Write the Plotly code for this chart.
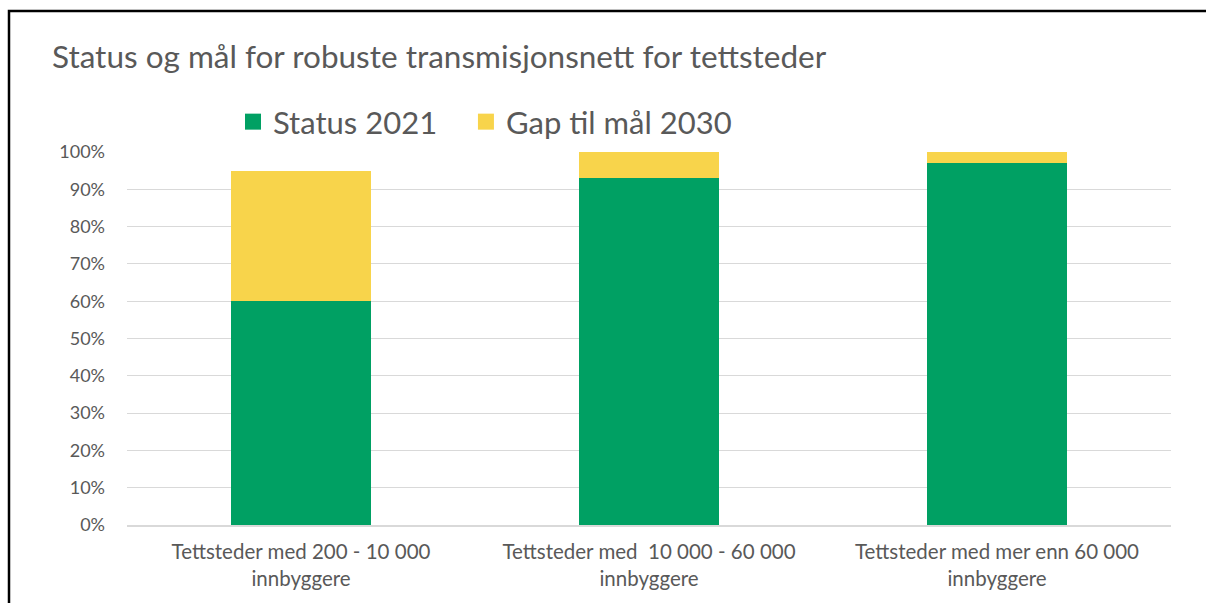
import plotly.graph_objects as go

categories = [
    "Tettsteder med 200 - 10 000<br>innbyggere",
    "Tettsteder med  10 000 - 60 000<br>innbyggere",
    "Tettsteder med mer enn 60 000<br>innbyggere",
]
series_names = ["Status 2021", "Gap til mål 2030"]
status_2021 = [0.60, 0.93, 0.97]
gap_2030 = [0.35, 0.07, 0.03]
y_ticks = [0, 0.1, 0.2, 0.3, 0.4, 0.5, 0.6, 0.7, 0.8, 0.9, 1.0]

W, H = 1206, 603
L, R, T, B = 127, 1171, 152, 525

def px(x):
    return (x - L) / (R - L)

def py(y):
    return (B - y) / (B - T)

FONT = "Lato"
GREY = "#595959"
GREEN = "#00A063"
YELLOW = "#F8D44B"

fig = go.Figure()
fig.add_trace(go.Bar(x=categories, y=status_2021, name=series_names[0], showlegend=False,
                     marker=dict(color=GREEN, line=dict(width=0))))
fig.add_trace(go.Bar(x=categories, y=gap_2030, name=series_names[1], showlegend=False,
                     marker=dict(color=YELLOW, line=dict(width=0))))
# legend entries with larger square swatches (non-breaking spaces widen the gap)
for name, col, pad in [(series_names[0], GREEN, "\u00a0\u00a0\u00a0"),
                       (series_names[1], YELLOW, "")]:
    fig.add_trace(go.Scatter(x=[None], y=[None], mode="markers", name=name + pad,
                             marker=dict(symbol="square", size=17, color=col)))

fig.update_layout(
    width=W, height=H,
    barmode="stack", bargap=0.6,
    margin=dict(l=L, r=W - R, t=T, b=H - B, pad=0),
    paper_bgcolor="white", plot_bgcolor="white",
    font=dict(family=FONT, color=GREY),
    title=dict(text="Status og mål for robuste transmisjonsnett for tettsteder",
               x=52 / W, xanchor="left", xref="container",
               y=1 - 57 / H, yanchor="middle", yref="container",
               font=dict(size=31.5, color=GREY, family=FONT)),
    legend=dict(orientation="h", x=px(233), xanchor="left",
                y=py(122), yanchor="middle",
                font=dict(size=31, color=GREY, family=FONT),
                itemsizing="trace", traceorder="normal",
                bgcolor="rgba(0,0,0,0)"),
    xaxis=dict(showgrid=False, showline=True, linecolor="#D9D9D9", linewidth=1.5,
               ticks="", ticklabelstandoff=8,
               tickfont=dict(size=20.5, color=GREY, family=FONT)),
    yaxis=dict(range=[0, 1.0], tickvals=y_ticks, tickformat=".0%",
               showgrid=True, gridcolor="#D9D9D9", gridwidth=1.2,
               zeroline=False, ticks="", ticklabelstandoff=21,
               tickfont=dict(size=18, color=GREY, family=FONT)),
    shapes=[dict(type="rect", xref="paper", yref="paper",
                 x0=px(9), x1=px(1215), y0=py(615), y1=py(11),
                 line=dict(color="black", width=2.5), fillcolor="rgba(0,0,0,0)",
                 layer="above")],
    showlegend=True,
)

fig.write_html("out.html",
               config={"displayModeBar": False},
               post_script="document.body.style.margin='0';"
                           "document.body.style.overflow='hidden';")
